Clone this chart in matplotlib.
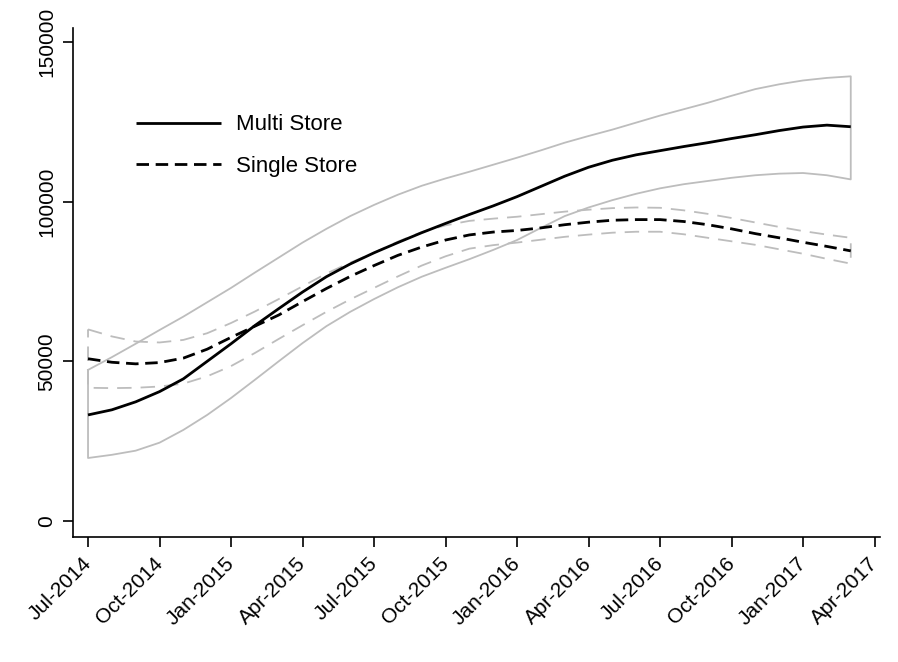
import matplotlib
matplotlib.use("Agg")
import matplotlib.pyplot as plt

plt.rcParams['font.family'] = ['Liberation Sans', 'DejaVu Sans']

# months since Jul-2014 (Jul-2014 .. Mar-2017)
months = list(range(33))

multi_mean = [33.2, 34.8, 37.3, 40.5, 44.5, 50.0, 55.5, 61.2, 66.5, 71.7, 76.5,
              80.5, 84.0, 87.2, 90.3, 93.2, 96.0, 98.7, 101.6, 104.8, 108.0,
              110.8, 113.0, 114.7, 116.0, 117.3, 118.5, 119.8, 121.0, 122.3,
              123.4, 124.0, 123.5]
multi_upper = [47.3, 51.3, 55.5, 59.8, 64.0, 68.5, 73.0, 77.8, 82.5, 87.2, 91.5,
               95.5, 99.0, 102.2, 105.0, 107.3, 109.4, 111.6, 113.8, 116.1, 118.5,
               120.6, 122.6, 124.8, 127.0, 129.0, 131.0, 133.2, 135.3, 136.8,
               138.0, 138.8, 139.3]
multi_lower = [19.7, 20.7, 22.0, 24.5, 28.5, 33.2, 38.5, 44.2, 50.0, 55.7, 61.0,
               65.5, 69.5, 73.2, 76.5, 79.3, 82.0, 84.9, 88.0, 91.8, 95.5,
               98.2, 100.5, 102.5, 104.2, 105.5, 106.5, 107.5, 108.3, 108.8,
               109.0, 108.3, 107.0]

single_mean = [50.8, 49.7, 49.2, 49.6, 51.0, 53.8, 57.5, 61.0, 64.5, 68.7, 72.8,
               76.6, 80.0, 83.2, 85.8, 88.0, 89.6, 90.5, 91.0, 91.8, 92.8,
               93.6, 94.2, 94.4, 94.4, 93.8, 92.8, 91.5, 90.0, 88.7,
               87.3, 86.0, 84.6]
single_upper = [60.0, 57.8, 56.2, 55.9, 56.7, 58.8, 62.0, 65.6, 69.5, 73.5, 77.5,
                80.9, 84.0, 87.5, 90.5, 92.6, 94.0, 94.7, 95.3, 96.1, 96.9,
                97.5, 98.0, 98.2, 98.1, 97.3, 96.2, 94.9, 93.5, 92.1,
                90.8, 89.7, 88.7]
single_lower = [41.7, 41.6, 41.7, 42.1, 43.0, 45.3, 48.5, 52.6, 57.0, 61.3, 65.5,
                69.4, 73.0, 76.6, 80.0, 82.9, 85.3, 86.4, 87.2, 88.1, 89.0,
                89.7, 90.3, 90.6, 90.6, 89.8, 88.7, 87.6, 86.5, 85.1,
                83.7, 82.1, 80.6]

tick_months = [0, 3, 6, 9, 12, 15, 18, 21, 24, 27, 30, 33]
tick_labels = ["Jul-2014", "Oct-2014", "Jan-2015", "Apr-2015", "Jul-2015", "Oct-2015",
               "Jan-2016", "Apr-2016", "Jul-2016", "Oct-2016", "Jan-2017", "Apr-2017"]
y_ticks = [0, 50000, 100000, 150000]
legend_labels = ["Multi Store", "Single Store"]

k = 1000.0
fig = plt.figure(figsize=(8.98, 6.62), dpi=100)
ax = fig.add_axes([0.0813, 0.189, 0.899, 0.769])

gray = "#bdbdbd"

def band_outline(x, up, lo):
    xs = list(x) + list(reversed(x)) + [x[0]]
    ys = [v * k for v in up] + [v * k for v in reversed(lo)] + [up[0] * k]
    return xs, ys

xs, ys = band_outline(months, multi_upper, multi_lower)
ax.plot(xs, ys, color=gray, lw=1.3, solid_joinstyle='round')
xs, ys = band_outline(months, single_upper, single_lower)
ax.plot(xs, ys, color=gray, lw=1.3, linestyle=(0, (8, 5)))

l1, = ax.plot(months, [v * k for v in multi_mean], color="black", lw=2.0,
              solid_capstyle='butt', solid_joinstyle='round')
l2, = ax.plot(months, [v * k for v in single_mean], color="black", lw=2.0,
              linestyle=(0, (4.5, 2.4)))

ax.set_xlim(-0.63, 33.24)
ax.set_ylim(-5016, 154500)

ax.set_xticks(tick_months)
ax.set_xticklabels(tick_labels, rotation=45, ha='right', va='center',
                   rotation_mode='anchor', fontsize=15)
ax.set_yticks(y_ticks)
ax.set_yticklabels([str(v) for v in y_ticks], rotation=90, va='center', fontsize=15)

ax.tick_params(axis='both', direction='out', length=7, width=1.2, color='black')
ax.tick_params(axis='x', pad=10)
ax.tick_params(axis='y', pad=5)

for s in ['top', 'right']:
    ax.spines[s].set_visible(False)
for s in ['left', 'bottom']:
    ax.spines[s].set_linewidth(1.2)

ax.legend([l1, l2], legend_labels, loc='upper left', bbox_to_anchor=(0.078, 0.83),
          frameon=False, fontsize=16, handlelength=3.83, handletextpad=0.68,
          labelspacing=0.92, borderpad=0, borderaxespad=0)

fig.savefig("out.png", dpi=100, facecolor="white")
